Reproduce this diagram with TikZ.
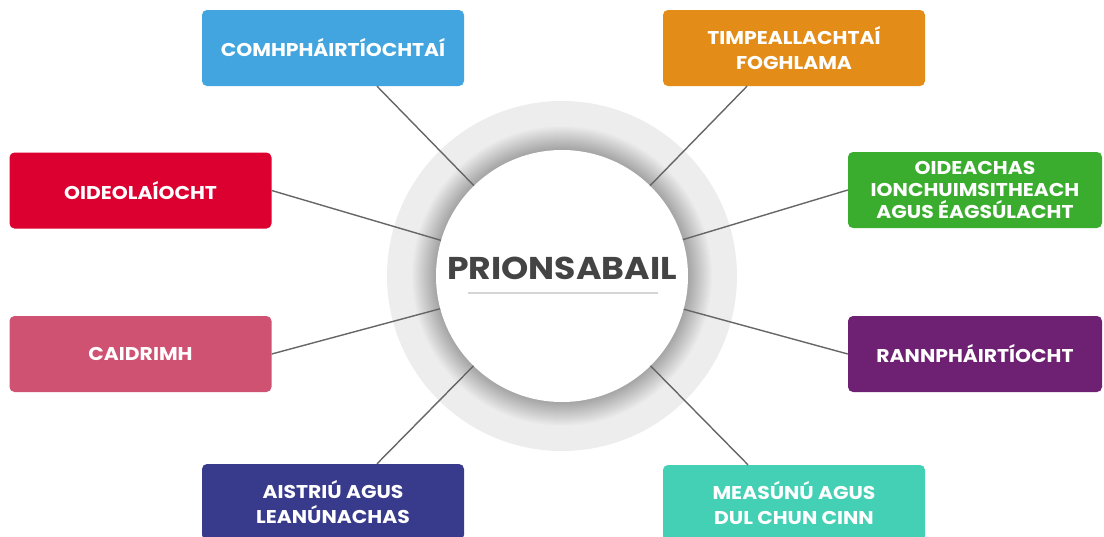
\documentclass[tikz,border=0pt]{standalone}
\usepackage{fontspec}
\setmainfont{Poppins}[FakeStretch=1.1]
\usetikzlibrary{positioning}
\definecolor{comhblue}{RGB}{66,165,224}
\definecolor{timporange}{RGB}{227,140,24}
\definecolor{oidered}{RGB}{220,0,48}
\definecolor{ioncgreen}{RGB}{58,173,46}
\definecolor{caidpink}{RGB}{208,82,115}
\definecolor{rannpurple}{RGB}{110,32,115}
\definecolor{aistnavy}{RGB}{56,58,140}
\definecolor{measteal}{RGB}{67,208,180}
\definecolor{ringgray}{RGB}{237,237,237}
\definecolor{spokegray}{RGB}{102,102,102}
\definecolor{titlegray}{RGB}{68,68,68}
\tikzset{
	x=1pt, y=-1pt, % one unit is one pixel of the layout, y runs downwards
	box/.style={rectangle, rounded corners=5pt, minimum height=76pt, inner sep=0pt, text=white, align=center, font=\fontsize{18.5}{25}\selectfont\bfseries}, % the coloured boxes
	wide box/.style={box, minimum width=262pt},
	narrow box/.style={box, minimum width=254pt}, % the right column is a bit cut
	spoke/.style={draw=spokegray, line width=1.4pt}, % lines from the hub to the boxes
}

\begin{document}
\begin{tikzpicture}
	\useasboundingbox (0,0) rectangle (1104,536);
	\clip (0,0) rectangle (1104,536);
	% ring and its shadow
	\fill[ringgray] (562,276) circle (175pt);
	\foreach \r in {127,...,150}
		\fill[black, opacity=0.013] (562,276) circle (\r pt);
	\node[circle, fill=white, minimum size=252pt, inner sep=0pt] (hub) at (562,276) {};
	\node[text=titlegray, font=\fontsize{31.5}{32}\selectfont\bfseries] (title) at (562,268) {PRIONSABAIL};
	\draw[draw=ringgray!90!black, line width=2pt] (468,293) -- (658,293);
	% boxes
	\node[wide box, fill=comhblue] (comh) at (333,48) {COMHPHÁIRTÍOCHTAÍ};
	\node[wide box, fill=timporange] (timp) at (794,48) {TIMPEALLACHTAÍ\\FOGHLAMA};
	\node[wide box, fill=oidered] (oide) at (140.5,190.5) {OIDEOLAÍOCHT};
	\node[narrow box, fill=ioncgreen, font=\fontsize{18.5}{22}\selectfont\bfseries] (ionc) at (975,190) {OIDEACHAS\\IONCHUIMSITHEACH\\AGUS ÉAGSÚLACHT};
	\node[wide box, fill=caidpink] (caid) at (140.5,354) {CAIDRIMH};
	\node[narrow box, fill=rannpurple] (rann) at (975,354) {RANNPHÁIRTÍOCHT};
	\node[wide box, fill=aistnavy] (aist) at (333,502) {AISTRIÚ AGUS\\LEANÚNACHAS};
	\node[wide box, fill=measteal] (meas) at (794,503) {MEASÚNÚ AGUS\\DUL CHUN CINN};
	% spokes
	\draw[spoke] (hub) -- ([xshift=44pt]comh.south);
	\draw[spoke] (hub) -- ([xshift=-47pt]timp.south);
	\draw[spoke] (hub) -- (oide.east);
	\draw[spoke] (hub) -- (ionc.west);
	\draw[spoke] (hub) -- (caid.east);
	\draw[spoke] (hub) -- (rann.west);
	\draw[spoke] (hub) -- ([xshift=44pt]aist.north);
	\draw[spoke] (hub) -- ([xshift=-46pt]meas.north);
\end{tikzpicture}
\end{document}
